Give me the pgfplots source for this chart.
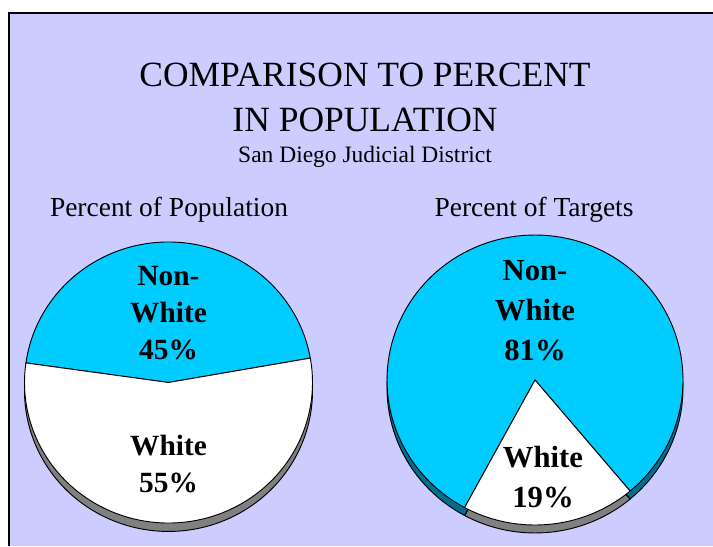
\documentclass[border=0pt]{standalone}
\usepackage{pgfplots}
\pgfplotsset{compat=1.18}
\usepackage{fontspec}
\setmainfont{Liberation Serif}
\definecolor{bg}{HTML}{CCCCFF}
\definecolor{pcyan}{HTML}{00CCFF}
\definecolor{pdark}{HTML}{006E8C}
\definecolor{pgray}{HTML}{808080}

% data (percent)
\def\popNW{45}\def\popW{55}
\def\tgtNW{81}\def\tgtW{19}
% start angles of the slices
\pgfmathsetmacro{\aA}{10}
\pgfmathsetmacro{\aB}{\aA+3.6*\popNW}
\pgfmathsetmacro{\aC}{\aB+3.6*\popW}
\pgfmathsetmacro{\bA}{241.6}
\pgfmathsetmacro{\bB}{\bA+3.6*\tgtW}
\pgfmathsetmacro{\bC}{\bB+3.6*\tgtNW}

\newcommand{\slice}[4]{%
  \addplot[draw=black, line width=0.7pt, line join=round, fill=#3,
    domain=#1:#2, samples=120, variable=\t]
    ({cos(\t)},{sin(\t)+#4}) -- (axis cs:0,#4) -- cycle;}

\begin{document}
\begin{tikzpicture}
\path[use as bounding box] (0pt,0pt) rectangle (534.75pt,409.5pt);
\fill[bg] (6.75pt,0pt) rectangle (534.75pt,399.75pt);
\draw[black, line width=1.6pt] (6.75pt,0pt) -- (6.75pt,399.75pt) -- (534.75pt,399.75pt);

\node[anchor=base, font=\fontsize{26.6}{30}\selectfont] at (273.75pt,344.25pt) {COMPARISON TO PERCENT};
\node[anchor=base, font=\fontsize{26.6}{30}\selectfont] at (273.75pt,310.5pt) {IN POPULATION};
\node[anchor=base, font=\fontsize{17.6}{20}\selectfont] at (273.75pt,287.25pt) {San Diego Judicial District};
\node[anchor=base, font=\fontsize{20.6}{24}\selectfont] at (126.75pt,246.75pt) {Percent of Population};
\node[anchor=base, font=\fontsize{20.6}{24}\selectfont] at (400.5pt,246.75pt) {Percent of Targets};

\begin{axis}[at={(126.375pt,122.625pt)}, anchor=center, x=108pt, y=105.4pt,
  xmin=-1.3, xmax=1.3, ymin=-1.3, ymax=1.3, hide axis, clip=false]
  \slice{\aA}{\aB}{pdark}{-0.06}
  \slice{\aB}{\aC}{pgray}{-0.06}
  \slice{\aA}{\aB}{pcyan}{0}
  \slice{\aB}{\aC}{white}{0}
  \node[align=center, font=\fontsize{22}{27.5}\selectfont\bfseries] at (axis cs:0,0.495) {Non-\\White\\45\%};
  \node[align=center, font=\fontsize{22}{27.5}\selectfont\bfseries] at (axis cs:0,-0.58) {White\\55\%};
\end{axis}

\begin{axis}[at={(401.25pt,124.5pt)}, anchor=center, x=111pt, y=108.75pt,
  xmin=-1.3, xmax=1.3, ymin=-1.3, ymax=1.3, hide axis, clip=false]
  \slice{\bA}{\bB}{pgray}{-0.055}
  \slice{\bB}{\bC}{pdark}{-0.055}
  \slice{\bB}{\bC}{pcyan}{0}
  \slice{\bA}{\bB}{white}{0}
  \node[align=center, font=\fontsize{23}{30}\selectfont\bfseries] at (axis cs:0,0.48) {Non-\\White\\81\%};
  \node[align=center, font=\fontsize{23}{30}\selectfont\bfseries] at (axis cs:0.054,-0.67) {White\\19\%};
\end{axis}
\end{tikzpicture}
\end{document}
